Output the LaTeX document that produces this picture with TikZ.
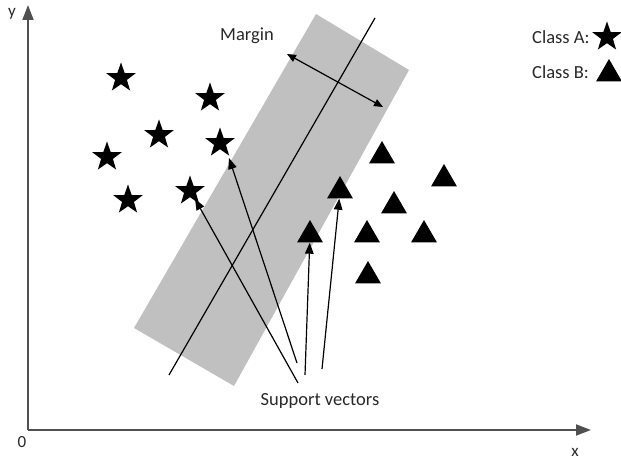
\documentclass[tikz,border=0pt]{standalone}
\usepackage{fontspec}
\setmainfont{Carlito}
\usetikzlibrary{shapes.geometric,arrows.meta}
\definecolor{bandgray}{RGB}{192,192,192}
\definecolor{axisgray}{RGB}{80,80,80}
\definecolor{txtgray}{RGB}{40,40,40}
\begin{document}
\begin{tikzpicture}[x=1pt,y=-1pt,
  staricon/.style={star, star points=5, star point ratio=2.5, fill=black, minimum size=31pt, inner sep=0pt},
  triicon/.style={regular polygon, regular polygon sides=3, fill=black, minimum size=30pt, inner sep=0pt},
  lbl/.style={font=\fontsize{18.5}{20}\selectfont, text=txtgray, inner sep=0pt},
  axlbl/.style={font=\fontsize{17}{19}\selectfont, text=txtgray, inner sep=0pt},
  svarrow/.style={-{Triangle[length=11pt,width=8.5pt]}, line width=1.2pt},
  marginarrow/.style={{Triangle[length=9pt,width=7.5pt]}-{Triangle[length=9pt,width=7.5pt]}, line width=1.2pt},
  axisline/.style={draw=axisgray, line width=1.8pt, -{Triangle[length=15pt,width=11pt]}}]
\useasboundingbox (0,0) rectangle (621,462);
% band
\fill[bandgray] (316,14) -- (409,70) -- (234,386) -- (134,328) -- cycle;
% axes
\coordinate (O) at (28,430);
\coordinate (ytip) at (28,5);
\coordinate (xtip) at (591,430);
\draw[axisline] (O) -- (ytip);
\draw[axisline] (O) -- (xtip);
\node[axlbl] (ylab) at (12,14) {y};
\node[axlbl] (zlab) at (22,442) {0};
\node[axlbl] (xlab) at (575,452) {x};
% separating line
\coordinate (h1) at (375,18);
\coordinate (h2) at (169,375);
\draw[line width=1.2pt] (h1) -- (h2);
% margin arrow
\coordinate (m1) at (287,54);
\coordinate (m2) at (383,107);
\draw[marginarrow] (m1) -- (m2);
\node[lbl] (margin) at (247,36) {Margin};
% stars
\node[staricon] (s1) at (121,78) {};
\node[staricon] (s2) at (210,98) {};
\node[staricon] (s3) at (159,135) {};
\node[staricon] (s4) at (220,143) {};
\node[staricon] (s5) at (107,157) {};
\node[staricon] (s6) at (128,200) {};
\node[staricon] (s7) at (190,191) {};
% triangles
\node[triicon] (t1) at (382,156) {};
\node[triicon] (t2) at (444,179) {};
\node[triicon] (t3) at (340,191) {};
\node[triicon] (t4) at (394,206) {};
\node[triicon] (t5) at (310,235) {};
\node[triicon] (t6) at (367,235) {};
\node[triicon] (t7) at (424,235) {};
\node[triicon] (t8) at (368,276) {};
% legend
\node[lbl, anchor=west] (ca) at (532,37) {Class A:};
\node[lbl, anchor=west] (cb) at (532,72) {Class B:};
\node[staricon] (ls) at (607,37) {};
\node[triicon] (lt) at (609,74) {};
% support vectors
\node[lbl] (sv) at (320,401) {Support vectors};
\coordinate (sv1) at (298,383);
\coordinate (sv2) at (297,363);
\coordinate (sv3) at (305,375);
\coordinate (sv4) at (322,369);
\draw[svarrow] (sv1) -- ([xshift=5pt,yshift=-8pt]s7.center);
\draw[svarrow] (sv2) -- ([xshift=9pt,yshift=-15pt]s4.center);
\draw[svarrow] (sv3) -- (t5);
\draw[svarrow] (sv4) -- (t3);
\end{tikzpicture}
\end{document}
